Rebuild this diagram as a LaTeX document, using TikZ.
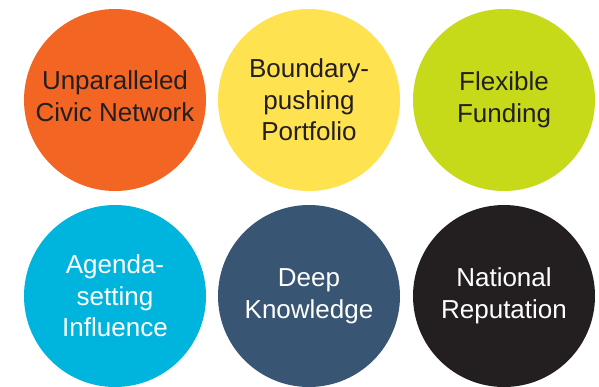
\documentclass[tikz,border=0pt]{standalone}
\usepackage{fontspec}
\setmainfont{Liberation Sans}
\definecolor{corange}{HTML}{F26522}
\definecolor{cyellow}{HTML}{FFE250}
\definecolor{cgreen}{HTML}{C6DA1A}
\definecolor{ccyan}{HTML}{00B5DD}
\definecolor{cnavy}{HTML}{385674}
\definecolor{cblack}{HTML}{231F20}
\definecolor{ctext}{HTML}{231F20}
\begin{document}
\begin{tikzpicture}[x=1pt,y=1pt,
  bubble/.style={circle, minimum size=182pt, inner sep=0pt, align=center,
    font=\fontsize{26}{31.5}\selectfont},
  lightbubble/.style={bubble, text=ctext},
  darkbubble/.style={bubble, text=white}]
\useasboundingbox (0,0) rectangle (599,-386);
\fill[white] (0,0) rectangle (599,-386);
\node[lightbubble, fill=corange] (civic) at (115,-100) {};
\node[lightbubble, minimum size=0pt] (civictext) at (115,-96) {Unparalleled\\Civic Network};
\node[lightbubble, fill=cyellow] (portfolio) at (309,-100) {Boundary-\\pushing\\Portfolio};
\node[lightbubble, fill=cgreen] (funding) at (504,-100) {Flexible\\Funding};
\node[darkbubble, fill=ccyan] (agenda) at (115,-296) {Agenda-\\setting\\Influence};
\node[darkbubble, fill=cnavy] (knowledge) at (309,-296) {Deep\\Knowledge};
\node[darkbubble, fill=cblack] (reputation) at (504,-296) {National\\Reputation};
\end{tikzpicture}
\end{document}
